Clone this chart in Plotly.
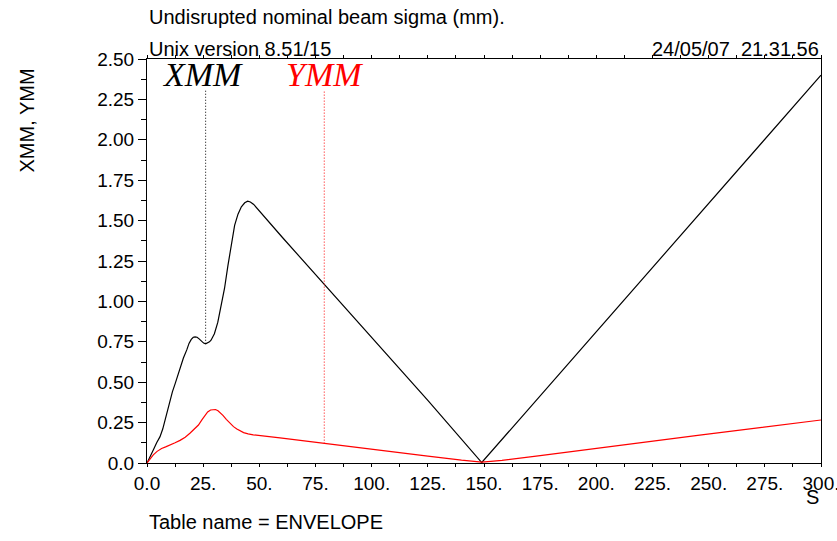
import plotly.graph_objects as go

# ---- data ----
s_x = [0, 1.5, 2.8, 4.3, 5.8, 7.0, 8.0, 9.0, 10.2, 11.3, 12.5, 13.6, 14.7, 16.2, 17.7, 18.7,
       19.7, 20.6, 21.4, 22.3, 23.2, 24.2, 25.2, 26.1, 27.0, 27.8, 28.5, 30.0, 31.5, 33.0,
       34.5, 36.0, 37.5, 39.0, 40.5, 42.0, 43.5, 44.8, 46.0, 47.5, 60, 83, 104, 125, 149,
       175, 200, 246, 300]
xmm = [0, 0.04, 0.08, 0.125, 0.163, 0.21, 0.266, 0.33, 0.39, 0.44, 0.49, 0.54, 0.596, 0.65,
       0.70, 0.74, 0.765, 0.778, 0.78, 0.778, 0.768, 0.752, 0.742, 0.738, 0.742, 0.75, 0.76,
       0.80, 0.87, 0.97, 1.08, 1.22, 1.36, 1.47, 1.54, 1.585, 1.61, 1.62, 1.615, 1.60, 1.40,
       1.04, 0.715, 0.388, 0.003, 0.416, 0.813, 1.543, 2.40]

s_y = [0, 1.4, 2.8, 4.5, 6.5, 8.3, 10.2, 12.5, 14.7, 17.0, 19.1, 21.0, 22.9, 24.5, 25.8,
       27.0, 28.3, 29.5, 30.5, 31.6, 32.6, 33.8, 35.3, 36.9, 38.5, 40.0, 41.4, 43.0, 45.0,
       47.3, 59.2, 79, 100, 125, 140, 145, 149, 153, 158, 175, 200, 246, 300]
ymm = [0, 0.025, 0.05, 0.072, 0.09, 0.10, 0.11, 0.125, 0.14, 0.16, 0.184, 0.208, 0.235,
       0.268, 0.297, 0.316, 0.328, 0.332, 0.331, 0.323, 0.312, 0.295, 0.27, 0.245, 0.225,
       0.21, 0.198, 0.188, 0.18, 0.174, 0.155, 0.12, 0.085, 0.043, 0.018, 0.011, 0.006,
       0.01, 0.016, 0.046, 0.091, 0.173, 0.266]

series_names = ["XMM", "YMM"]
series_colors = ["#000000", "#ff0000"]
label_s = [24.7, 78.8]        # label centres along S
pointer_s = [26.1, 78.9]      # pointer line positions
pointer_base = [0.738, 0.12]  # where pointer meets the curve
pointer_top = 2.308
label_y = 2.28

x_tickvals = [0, 25, 50, 75, 100, 125, 150, 175, 200, 225, 250, 275, 300]
x_ticktext = ["0.0", "25.", "50.", "75.", "100.", "125.", "150.", "175.", "200.",
              "225.", "250.", "275.", "300."]
y_tickvals = [0, 0.25, 0.5, 0.75, 1.0, 1.25, 1.5, 1.75, 2.0, 2.25, 2.5]
y_ticktext = ["0.0", "0.25", "0.50", "0.75", "1.00", "1.25", "1.50", "1.75", "2.00",
              "2.25", "2.50"]

SANS = "Liberation Sans"
SERIF = "Liberation Serif"

fig = go.Figure()
fig.add_trace(go.Scatter(x=s_x, y=xmm, mode="lines", line=dict(color=series_colors[0], width=1.2),
                         showlegend=False, hoverinfo="skip"))
fig.add_trace(go.Scatter(x=s_y, y=ymm, mode="lines", line=dict(color=series_colors[1], width=1.2),
                         showlegend=False, hoverinfo="skip"))
for i in range(2):
    fig.add_trace(go.Scatter(x=[pointer_s[i], pointer_s[i]], y=[pointer_base[i], pointer_top],
                             mode="lines", line=dict(color=series_colors[i], width=1, dash="1px,2px"),
                             showlegend=False, hoverinfo="skip"))
    fig.add_annotation(x=label_s[i], y=label_y, xref="x", yref="y",
                       text="<i>" + series_names[i] + "</i>",
                       showarrow=False, xanchor="center", yanchor="bottom",
                       font=dict(family=SERIF, size=34, color=series_colors[i]))


def py2paper(py):
    return (463 - py) / 404.0


fig.add_annotation(x=0, y=py2paper(30), xref="paper", yref="paper", xanchor="left", yanchor="bottom",
                   text="Undisrupted nominal beam sigma (mm).", showarrow=False,
                   font=dict(family=SANS, size=20, color="black"))
fig.add_annotation(x=0, y=py2paper(62.5), xref="paper", yref="paper", xanchor="left", yanchor="bottom",
                   text="Unix version 8.51/15", showarrow=False,
                   font=dict(family=SANS, size=20, color="black"))
fig.add_annotation(x=1, y=py2paper(62.5), xref="paper", yref="paper", xanchor="right", yanchor="bottom",
                   text="24/05/07\u00a0\u00a021.31.56", showarrow=False,
                   font=dict(family=SANS, size=20, color="black"))
fig.add_annotation(x=1, y=py2paper(510), xref="paper", yref="paper", xanchor="right", yanchor="bottom",
                   text="S", showarrow=False, font=dict(family=SANS, size=20, color="black"))
fig.add_annotation(x=0, y=py2paper(535), xref="paper", yref="paper", xanchor="left", yanchor="bottom",
                   text="Table name = ENVELOPE", showarrow=False,
                   font=dict(family=SANS, size=20, color="black"))
fig.add_annotation(x=(26 - 147) / 674.0, y=py2paper(120.5), xref="paper", yref="paper",
                   xanchor="center", yanchor="middle", textangle=-90,
                   text="XMM, YMM", showarrow=False, font=dict(family=SANS, size=20, color="black"))

fig.update_layout(
    width=837, height=541,
    margin=dict(l=147, r=16, t=59, b=78, pad=0, autoexpand=False),
    paper_bgcolor="white", plot_bgcolor="white",
    xaxis=dict(range=[0, 300], tickmode="array", tickvals=x_tickvals, ticktext=x_ticktext,
               showgrid=False, zeroline=False, showline=True, linecolor="black", linewidth=1,
               mirror="ticks", ticks="outside", ticklen=3, tickcolor="black", tickwidth=1,
               ticklabeloverflow="allow", automargin=False,
               tickfont=dict(family=SANS, size=19, color="black"),
               minor=dict(tickmode="linear", tick0=0, dtick=12.5, ticks="outside", ticklen=3,
                          tickcolor="black", showgrid=False)),
    yaxis=dict(range=[0, 2.5], tickmode="array", tickvals=y_tickvals, ticktext=y_ticktext,
               showgrid=False, zeroline=False, showline=True, linecolor="black", linewidth=1,
               mirror=True, ticks="outside", ticklen=8, tickcolor="black", tickwidth=1,
               automargin=False,
               tickfont=dict(family=SANS, size=19, color="black"),
               minor=dict(tickmode="linear", tick0=0, dtick=0.125, ticks="outside", ticklen=5,
                          tickcolor="black", showgrid=False)),
)

fig.write_html("out.html")
